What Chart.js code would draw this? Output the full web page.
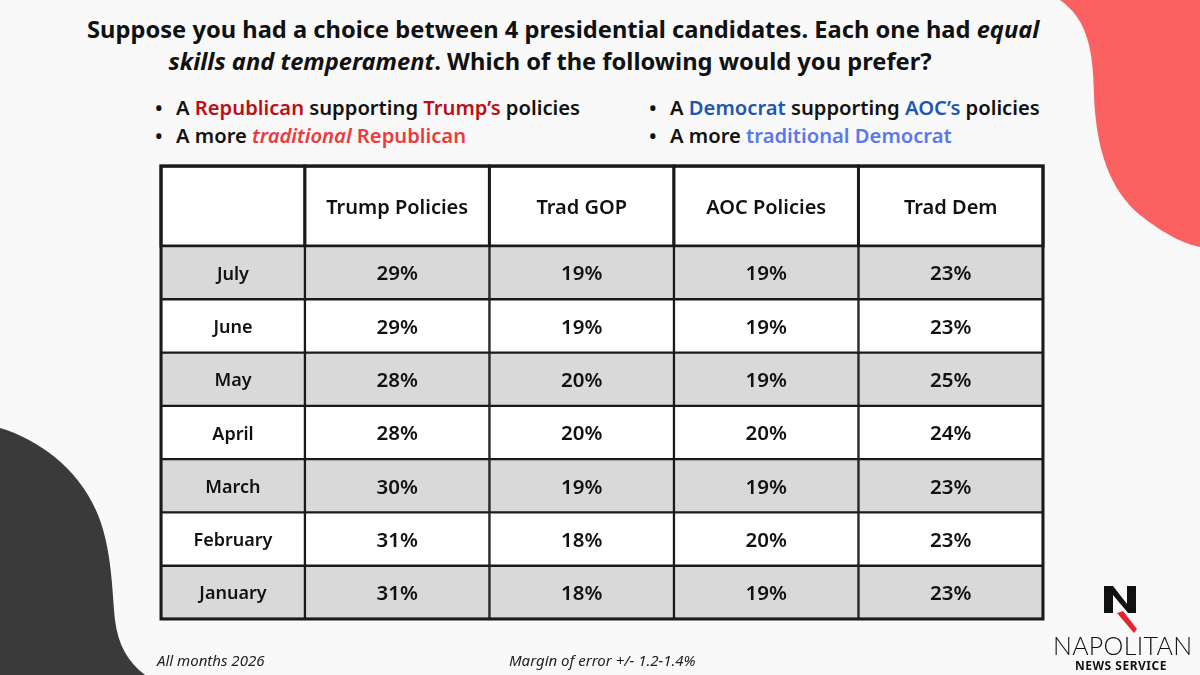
<!DOCTYPE html>
<html>
<head>
<meta charset="utf-8">
<script src="https://cdn.jsdelivr.net/npm/chart.js@4.4.1/dist/chart.umd.min.js"></script>
<style>
html, body { margin: 0; padding: 0; }
body { width: 1200px; height: 675px; position: relative; overflow: hidden; background: #f9f9f9; font-family: "Noto Sans", sans-serif; color: #111; }
#bg { position: absolute; left: 0; top: 0; }
#table { position: absolute; left: 0; top: 0; }
.t { position: absolute; white-space: nowrap; }
.title { font-weight: 700; font-size: 23.7px; line-height: 30px; }
.bullet { font-weight: 600; font-size: 20.2px; line-height: 26px; }
.dot { display: inline-block; width: 21px; }
.foot { font-style: italic; font-size: 15px; line-height: 20px; color: #222; }
.rep { color: #c00d14; }
.rep2 { color: #ef3a3d; }
.dem { color: #1c57b2; }
.dem2 { color: #5a78ef; }
.logo1 { font-family: "Lato", sans-serif; font-weight: 300; font-size: 25px; line-height: 28px; letter-spacing: 0.3px; }
.logo2 { font-weight: 700; font-size: 12px; line-height: 14px; letter-spacing: 0.5px; }
</style>
</head>
<body>
<svg id="bg" width="1200" height="675">
  <path d="M1060,0 C1088,20 1093,50 1094,95 C1096,150 1110,190 1140,215 C1165,235 1185,244 1200,247 L1200,0 Z" fill="#fb6161"/>
  <path d="M0,428 C40,440 80,470 98,515 C112,550 112,590 115,620 C118,645 128,662 145,675 L0,675 Z" fill="#3a3a3a"/>
  <!-- logo mark -->
  <polygon points="1104,586 1113,586 1127,604 1127,586 1136,586 1136,613 1128,613 1113,595 1113,613 1104,613" fill="#111"/>
  <polygon points="1113,602 1121,605 1127,612 1116,612" fill="#fff"/>
  <polygon points="1117,613 1123,611 1137,629 1134,633" fill="#e3262b"/>
</svg>

<div class="t title" id="t1" style="top:14px;">Suppose you had a choice between 4 presidential candidates. Each one had <i>equal</i></div>
<div class="t title" id="t2" style="top:46px;"><i>skills and temperament</i>. Which of the following would you prefer?</div>

<div class="t bullet" style="left:155px; top:94px;"><span class="dot">•</span>A <span class="rep">Republican</span> supporting <span class="rep">Trump’s</span> policies</div>
<div class="t bullet" style="left:155px; top:122px;"><span class="dot">•</span>A more <span class="rep2"><i>traditional</i> Republican</span></div>
<div class="t bullet" style="left:649px; top:94px;"><span class="dot">•</span>A <span class="dem">Democrat</span> supporting <span class="dem">AOC’s</span> policies</div>
<div class="t bullet" style="left:649px; top:122px;"><span class="dot">•</span>A more <span class="dem2">traditional Democrat</span></div>

<canvas id="table" width="1200" height="675"></canvas>

<div class="t foot" style="left:157px; top:650px;">All months 2026</div>
<div class="t foot" style="left:509px; top:650px;">Margin of error +/- 1.2-1.4%</div>

<div class="t logo1" style="left:1053px; top:631px;">NAPOLITAN</div>
<div class="t logo2" style="left:1075px; top:659px;">NEWS SERVICE</div>

<script>
// table data, newest month first
const months = ['July', 'June', 'May', 'April', 'March', 'February', 'January']
const columns = ['Trump Policies', 'Trad GOP', 'AOC Policies', 'Trad Dem']
const trumpPolicies = [29, 29, 28, 28, 30, 31, 31]
const tradGOP = [19, 19, 20, 20, 19, 18, 18]
const aocPolicies = [19, 19, 19, 20, 19, 20, 19]
const tradDem = [23, 23, 25, 24, 23, 23, 23]

const series = [null, trumpPolicies, tradGOP, aocPolicies, tradDem]

// title lines are centred on slightly different points in the original
function centreAt(el, cx) {
    el.style.left = (cx - el.offsetWidth / 2) + 'px'
}
centreAt(document.getElementById('t1'), 563)
centreAt(document.getElementById('t2'), 550)

// first column (month names) is narrower than the value columns
const LABEL_W = 0.78
function colEdges(c) {
    return c === 0 ? [0, LABEL_W] : [LABEL_W + c - 1, LABEL_W + c]
}

const rowFill = months.map((m, i) => i % 2 === 0 ? '#d9d9d9' : '#ffffff')
const LINE = '#1a1a1a'

const datasets = series.map((s, c) => ({
    label: c === 0 ? 'Month' : columns[c - 1],
    data: months.map(() => colEdges(c)),
    backgroundColor: rowFill,
    borderColor: LINE,
    borderWidth: 1.5,
    borderSkipped: false,
    barPercentage: 1,
    categoryPercentage: 1,
    grouped: false
}))

const tablePlugin = {
    id: 'tablePlugin',
    beforeDatasetsDraw(chart) {
        // header row sits above the chart area, 1.5 rows tall
        const { ctx, chartArea, scales: { x, y } } = chart
        const rowH = y.getPixelForValue(1) - y.getPixelForValue(0)
        const top = chartArea.top - rowH * 1.5
        ctx.save()
        for (let c = 0; c < series.length; c++) {
            const [e0, e1] = colEdges(c)
            const x0 = x.getPixelForValue(e0)
            const x1 = x.getPixelForValue(e1)
            ctx.fillStyle = '#ffffff'
            ctx.fillRect(x0, top, x1 - x0, chartArea.top - top)
            ctx.strokeStyle = LINE
            ctx.lineWidth = 3
            ctx.strokeRect(x0, top, x1 - x0, chartArea.top - top)
            if (c > 0) {
                ctx.fillStyle = '#111'
                ctx.font = '600 20px "Noto Sans"'
                ctx.textAlign = 'center'
                ctx.textBaseline = 'middle'
                ctx.fillText(columns[c - 1], (x0 + x1) / 2, (top + chartArea.top) / 2 + 2)
            }
        }
        ctx.restore()
    },
    afterDatasetsDraw(chart) {
        const { ctx, chartArea, scales: { y } } = chart
        const rowH = y.getPixelForValue(1) - y.getPixelForValue(0)
        const top = chartArea.top - rowH * 1.5
        ctx.save()
        ctx.fillStyle = '#111'
        ctx.textAlign = 'center'
        ctx.textBaseline = 'middle'
        for (let c = 0; c < series.length; c++) {
            const meta = chart.getDatasetMeta(c)
            meta.data.forEach((bar, i) => {
                const cx = (bar.x + bar.base) / 2
                if (c === 0) {
                    ctx.font = '600 18px "Noto Sans"'
                    ctx.fillText(months[i], cx, bar.y + 2)
                } else {
                    ctx.font = '600 20.5px "Noto Sans"'
                    ctx.fillText(series[c][i] + '%', cx, bar.y + 2)
                }
            })
        }
        // outer frame
        ctx.strokeStyle = LINE
        ctx.lineWidth = 3
        ctx.strokeRect(chartArea.left, top, chartArea.right - chartArea.left, chartArea.bottom - top)
        ctx.restore()
    }
}

new Chart(document.getElementById('table'), {
    type: 'bar',
    data: { labels: months, datasets: datasets },
    options: {
        indexAxis: 'y',
        responsive: false,
        animation: false,
        devicePixelRatio: 1,
        layout: { padding: { left: 161, right: 157, top: 246, bottom: 56 } },
        scales: {
            x: { type: 'linear', min: 0, max: LABEL_W + 4, display: false },
            y: { type: 'category', display: false }
        },
        plugins: {
            legend: { display: false },
            tooltip: { enabled: false }
        }
    },
    plugins: [tablePlugin]
})
</script>
</body>
</html>
